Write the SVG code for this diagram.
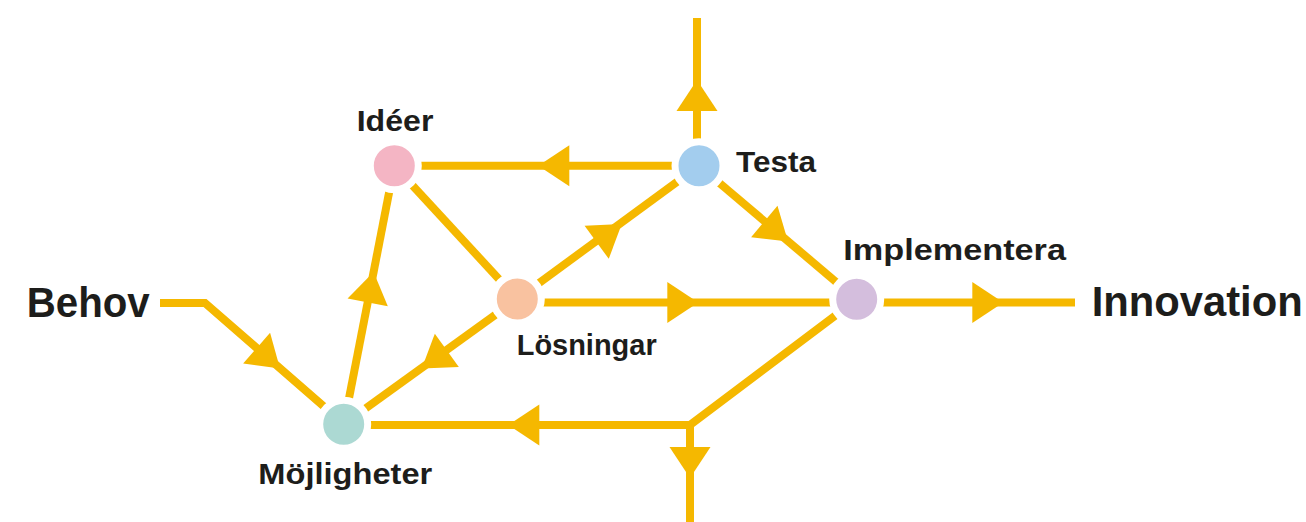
<svg xmlns="http://www.w3.org/2000/svg" xmlns:xlink="http://www.w3.org/1999/xlink" width="1306" height="522" viewBox="0 0 1306 522">
  <style>
    .ln { fill: none; stroke: #F5B800; stroke-width: 8; stroke-linejoin: miter; stroke-linecap: butt; }
    .ah { fill: #F5B800; }
    .nd { stroke: #ffffff; stroke-width: 7; }
    .lbl { font-family: "Liberation Sans", Arial, sans-serif; font-weight: bold; fill: #1d1d1b; font-size: 30px; }
    .big { font-size: 42px; }
  </style>
  <defs>
    <path id="arrow" d="M0,0 L-31,-20.5 L-31,20.5 Z"/>
  </defs>
  <rect width="1306" height="522" fill="#ffffff"/>
  <g id="connectors">
    <path class="ln" d="M160,303 H205 L344,424"/>
    <path class="ln" d="M344,424 L394.3,165.7"/>
    <path class="ln" d="M394.3,165.7 L517.3,299"/>
    <path class="ln" d="M699,165.7 H394.3"/>
    <path class="ln" d="M517.3,299 L699,165.7"/>
    <path class="ln" d="M517.3,299 L344,424"/>
    <path class="ln" d="M517.3,302.5 H856.7"/>
    <path class="ln" d="M699,165.7 L856.7,299.5"/>
    <path class="ln" d="M697,166 V18"/>
    <path class="ln" d="M856.7,302.5 H1075"/>
    <path class="ln" d="M344,425 H690 L856.7,299.5"/>
    <path class="ln" d="M690,425 V522"/>
    <use href="#arrow" class="ah" transform="translate(280,368.5) rotate(41.04)"/>
    <use href="#arrow" class="ah" transform="translate(373.6,272) rotate(-79.03)"/>
    <use href="#arrow" class="ah" transform="translate(538.3,165.7) rotate(180)"/>
    <use href="#arrow" class="ah" transform="translate(621.7,224) rotate(-36.16)"/>
    <use href="#arrow" class="ah" transform="translate(421.7,368.5) rotate(144.15)"/>
    <use href="#arrow" class="ah" transform="translate(698.3,302.5)"/>
    <use href="#arrow" class="ah" transform="translate(788,241.5) rotate(40.1)"/>
    <use href="#arrow" class="ah" transform="translate(697,80) rotate(-90)"/>
    <use href="#arrow" class="ah" transform="translate(1003.3,302.5)"/>
    <use href="#arrow" class="ah" transform="translate(508.3,425) rotate(180)"/>
    <use href="#arrow" class="ah" transform="translate(690,478) rotate(90)"/>
  </g>
  <g id="node-behov">
    <text class="lbl big" x="26.7" y="316.7" textLength="123" lengthAdjust="spacingAndGlyphs">Behov</text>
  </g>
  <g id="node-innovation">
    <text class="lbl big" x="1091.7" y="316" textLength="211" lengthAdjust="spacingAndGlyphs">Innovation</text>
  </g>
  <g id="node-ideer">
    <circle class="nd" cx="394.3" cy="165.7" r="24" fill="#F4B5C4"/>
    <text class="lbl" x="356.7" y="131" textLength="76.7" lengthAdjust="spacingAndGlyphs">Idéer</text>
  </g>
  <g id="node-testa">
    <circle class="nd" cx="699" cy="165.7" r="24" fill="#A3CDEE"/>
    <text class="lbl" x="736" y="172.3" textLength="80" lengthAdjust="spacingAndGlyphs">Testa</text>
  </g>
  <g id="node-losningar">
    <circle class="nd" cx="517.3" cy="299" r="24" fill="#F9C2A0"/>
    <text class="lbl" x="516.7" y="355" textLength="140" lengthAdjust="spacingAndGlyphs">Lösningar</text>
  </g>
  <g id="node-implementera">
    <circle class="nd" cx="856.7" cy="299.3" r="24" fill="#D4BEDD"/>
    <text class="lbl" x="843.3" y="260" textLength="222.7" lengthAdjust="spacingAndGlyphs" style="font-size:29px">Implementera</text>
  </g>
  <g id="node-mojligheter">
    <circle class="nd" cx="343.7" cy="424.3" r="24" fill="#ACD9D3"/>
    <text class="lbl" x="258.3" y="484.3" textLength="174" lengthAdjust="spacingAndGlyphs">Möjligheter</text>
  </g>
</svg>
